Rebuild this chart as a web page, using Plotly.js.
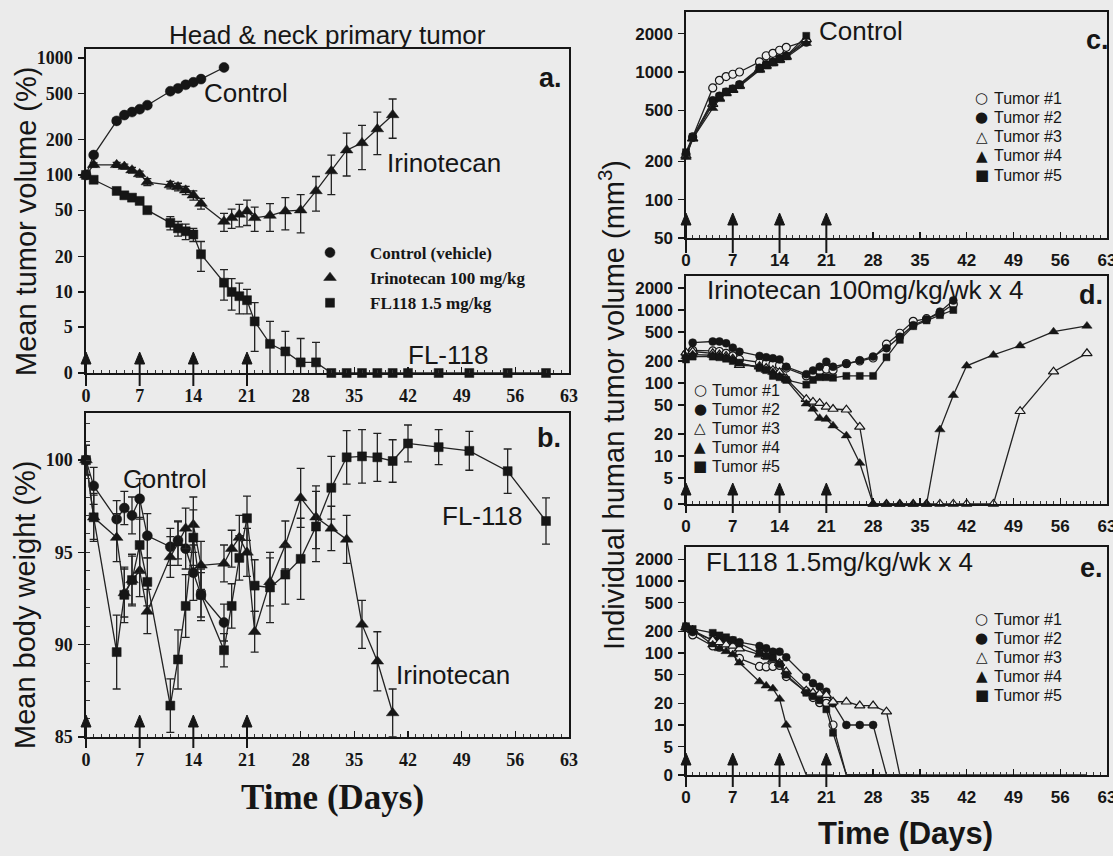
<!DOCTYPE html>
<html><head><meta charset="utf-8">
<script src="https://cdn.plot.ly/plotly-3.0.1.min.js"></script>
<style>html,body{margin:0;padding:0;background:#ebebeb;}#chart{width:1113px;height:856px;}</style>
</head><body><div id="chart"></div><script>
// ---------------- DATA ----------------
const doseDays = [0, 7, 14, 21];
const dayTicks = [0, 7, 14, 21, 28, 35, 42, 49, 56, 63];

// Panel a: mean tumor volume (%)
const aCtrlDays = [0,1,4,5,6,7,8,11,12,13,14,15,18];
const aCtrlVol  = [100,148,290,325,345,365,395,520,550,590,620,660,830];
const aCtrlErr  = [0,6,12,12,13,14,15,20,22,24,25,27,35];
const aIriDays = [0,1,4,5,6,7,8,11,12,13,14,15,18,19,20,21,22,24,26,28,30,32,34,36,38,40];
const aIriVol  = [100,122,122,118,110,102,87,82,79,74,67,57,40,43,46,49,43,45,49,50,73,108,163,188,247,326];
const aIriErr  = [0,5,6,6,6,6,6,6,6,6,6,6,7,8,10,12,10,12,15,18,24,40,65,77,98,120];
const aFlDays = [0,1,4,5,6,7,8,11,12,13,14,15,18,19,20,21,22,24,26,28,30,32,34,36,38,40,42,46,50,55,60];
const aFlVol  = [100,91,73,67,64,60,50,39,35,33,31,21,12,10,9.2,8.5,5.6,3.6,3.1,2.5,2.5,0,0,0,0,0,0,0,0,0,0];
const aFlErr  = [0,3,3,3,3,3,3,5,5,5,4,6,3.5,3,2.7,2,2.5,2,1.5,1.5,1.2,0,0,0,0,0,0,0,0,0,0];
const aTicks  = [0,5,10,20,50,100,200,500,1000];

// Panel b: mean body weight (%)
const bCtrlWt  = [100,98.6,96.8,97.4,97.0,97.9,95.9,95.3,95.65,95.2,93.9,92.7,91.2];
const bCtrlErr = [0.8,1.0,1.0,0.9,1.0,1.1,1.2,1.0,1.0,1.1,1.5,1.2,1.0];
const bIriWt   = [100,96.9,95.8,92.8,93.5,94.0,91.8,94.75,95.5,96.3,96.5,94.3,94.4,95.2,95.8,95.0,90.7,93.4,95.4,97.95,96.9,96.3,95.7,91.1,89.1,86.3];
const bIriErr  = [0.8,1.2,1.3,1.3,1.3,1.4,1.2,1.1,1.2,1.1,1.5,1.3,1.0,1.0,1.2,1.3,1.1,1.3,1.3,1.6,1.7,1.2,1.3,1.3,1.6,1.3];
const bFlWt    = [100,96.9,89.6,92.7,93.5,95.4,93.4,86.7,89.2,92.1,95.8,92.7,89.7,92.1,94.7,96.85,93.2,93.1,93.8,94.65,96.4,98.5,100.15,100.2,100.15,99.95,100.9,100.7,100.5,99.4,96.7];
const bFlErr   = [0.8,1.3,2.0,1.5,1.4,1.5,1.3,1.45,1.6,1.7,1.5,1.4,0.9,1.2,1.2,1.2,1.4,1.9,1.6,2.2,1.9,1.7,1.45,1.45,1.3,1.15,1.0,0.95,1.05,1.2,1.25];
const bTicks   = [85, 90, 95, 100];

// Panel c: control, individual tumors (mm3)
const cDays = [0,1,4,5,6,7,8,11,12,13,14,15,18];
const cT1 = [225,310,750,860,920,960,1000,1200,1340,1400,1480,1560,1750];
const cT2 = [230,305,600,650,700,740,800,1080,1150,1200,1280,1340,1700];
const cT3 = [220,300,560,620,680,720,780,1050,1120,1180,1250,1320,1800];
const cT4 = [215,300,520,610,690,730,770,1030,1100,1160,1230,1300,1680];
const cT5 = [235,310,580,640,700,740,790,1060,1130,1190,1260,1330,1920];
const cTicks = [50,100,200,500,1000,2000];

// Panels d, e: shared day list (each tumor uses the first N days)
const indDays = [0,1,4,5,6,7,8,11,12,13,14,15,18,19,20,21,22,24,26,28,30,32,34,36,38,40,42,46,50,55,60];
const dT1 = [240,280,275,270,255,235,210,190,185,180,175,160,125,135,145,155,150,185,200,220,340,480,700,760,900,1200];
const dT2 = [250,357,370,370,350,305,268,235,225,218,210,167,132,148,167,196,167,182,205,230,300,430,620,740,950,1350];
const dT3 = [260,270,255,245,235,215,175,170,160,150,140,115,60,55,53,47,44,43,25,0,0,0,0,0,0,0,0,0,41,143,255];
const dT4 = [230,245,240,235,225,210,185,165,150,140,125,110,52,44,33,32,26,19,8,0,0,0,0,0,23,68,172,242,325,505,605];
const dT5 = [210,230,230,225,215,200,190,160,150,125,120,110,95,110,120,120,118,125,125,125,225,390,600,720,850,1000];
const eT1 = [225,178,125,120,116,110,84,65,64,65,67,47,29,24,20.4,20,10,0,0,0,0,0];
const eT2 = [230,195,151,150,155,150,141,125,116,104,104,87,46,38,34,29,20,10,10,10,0,0,0,0,0,0,0,0,0,0,0];
const eT3 = [225,205,150,140,130,125,115,95,90,80,72,55,30,28,27,26,21,21,18.6,18.6,15.3,0,0];
const eT4 = [225,210,130,115,105,95,73,40,35,32,23,10,0,0,0,0,0];
const eT5 = [235,215,190,175,165,150,135,100,90,85,70,50,28,25,22,16.5,7.8,0,0,0,0];
const indTicks = [0,5,10,20,50,100,200,500,1000,2000];
const tumorNames = ['Tumor #1','Tumor #2','Tumor #3','Tumor #4','Tumor #5'];
const tumorGlyphs = ['\u25CB','\u25CF','\u25B3','\u25B2','\u25A0'];

// ---------------- STYLE / GEOMETRY ----------------
const W = 1113, H = 856;
const BG = '#ebebeb', INK = '#161616';
const SANS = 'Liberation Sans, Arial, sans-serif';
const SERIF = 'Liberation Serif, Times New Roman, serif';
const px = v => v / W, py = v => 1 - v / H;
const domX = (l, r) => [px(l), px(r)];
const domY = (t, b) => [py(b), py(t)];

const rngA = [0.307, 3.077], rngC = [1.699, 3.47], rngD = [0.342, 3.466], rngE = [0.306, 3.47];
const floorOf = r => Math.pow(10, r[0]);
const z = (vals, r) => vals.map(v => v <= 0 ? floorOf(r) : v);

const traces = [];
function addSeries(xa, ya, days, vals, err, rng, mk, name, legend, showLeg) {
  const y = rng ? z(vals, rng) : vals;
  const d = days.slice(0, vals.length);
  traces.push({x: d, y: y, xaxis: xa, yaxis: ya, mode: 'lines', cliponaxis: false,
    line: {color: '#222', width: 1.3}, showlegend: false, hoverinfo: 'skip'});
  const t = {x: d, y: y, xaxis: xa, yaxis: ya, mode: 'markers', cliponaxis: false, name: name,
    marker: mk, showlegend: !!showLeg, legendgroup: name + xa};
  if (legend) t.legend = legend;
  if (err) t.error_y = {type: 'data', array: err, visible: true, color: '#222', thickness: 1.3, width: 4};
  traces.push(t);
}
const mFill = (sym, size) => ({symbol: sym, size: size, color: INK, line: {color: INK, width: 0.5}});
const mOpen = (sym, size) => ({symbol: sym, size: size, color: BG, line: {color: INK, width: 1.2}});

addSeries('x', 'y', aCtrlDays, aCtrlVol, aCtrlErr, rngA, mFill('circle', 10), 'Control (vehicle)', 'legend', true);
addSeries('x', 'y', aIriDays, aIriVol, aIriErr, rngA, mFill('triangle-up', 11), 'Irinotecan 100 mg/kg', 'legend', true);
addSeries('x', 'y', aFlDays, aFlVol, aFlErr, rngA, mFill('square', 9), 'FL118 1.5 mg/kg', 'legend', true);
addSeries('x2', 'y2', aCtrlDays, bCtrlWt, bCtrlErr, null, mFill('circle', 10), 'Control', null, false);
addSeries('x2', 'y2', aIriDays, bIriWt, bIriErr, null, mFill('triangle-up', 11), 'Irinotecan', null, false);
addSeries('x2', 'y2', aFlDays, bFlWt, bFlErr, null, mFill('square', 9), 'FL-118', null, false);
const tumorMk = [mOpen('circle', 8), mFill('circle', 8), mOpen('triangle-up', 9), mFill('triangle-up', 9), mFill('square', 7)];
[cT1, cT2, cT3, cT4, cT5].forEach((v, i) => addSeries('x3', 'y3', cDays, v, null, rngC, tumorMk[i], tumorNames[i], null, false));
[dT1, dT2, dT3, dT4, dT5].forEach((v, i) => addSeries('x4', 'y4', indDays, v, null, rngD, tumorMk[i], tumorNames[i], null, false));
[eT1, eT2, eT3, eT4, eT5].forEach((v, i) => addSeries('x5', 'y5', indDays, v, null, rngE, tumorMk[i], tumorNames[i], null, false));

// ---------------- AXES ----------------
const serifTick = {family: SERIF, size: 18, weight: 'bold', color: INK};
const sansTick = {family: SANS, size: 17, weight: 'bold', color: INK};
function xAx(dom, anchor, font) {
  return {domain: dom, anchor: anchor, range: [0, 63], tickvals: dayTicks, ticktext: dayTicks.map(String),
    ticks: 'inside', ticklen: 6, tickwidth: 1.3, tickcolor: INK,
    minor: {tickvals: Array.from({length: 64}, (_, i) => i), ticks: 'inside', ticklen: 3, tickwidth: 1, tickcolor: '#333'},
    showline: true, linecolor: INK, linewidth: 1.6, mirror: true, showgrid: false, zeroline: false,
    tickfont: font, ticklabelstandoff: 6, ticklabeloverflow: 'allow', fixedrange: true};
}
function yLog(dom, anchor, rng, ticks, font) {
  const fl = floorOf(rng);
  return {domain: dom, anchor: anchor, type: 'log', range: rng,
    tickvals: ticks.map(t => t <= 0 ? fl : t), ticktext: ticks.map(String),
    ticks: 'outside', ticklen: 6, tickwidth: 1.3, tickcolor: INK,
    showline: true, linecolor: INK, linewidth: 1.6, mirror: true, showgrid: false, zeroline: false,
    tickfont: font, ticklabelstandoff: 2, fixedrange: true};
}
const domAX = domX(86, 569), domCX = domX(686, 1107);
const domA = domY(49, 373), domB = domY(413, 737), domC = domY(12, 238), domD = domY(276, 504), domE = domY(547, 775);

const layout = {
  width: W, height: H, margin: {l: 0, r: 0, t: 0, b: 0},
  paper_bgcolor: BG, plot_bgcolor: BG, showlegend: true,
  font: {family: SANS, color: INK},
  xaxis: xAx(domAX, 'y', serifTick),
  yaxis: yLog(domA, 'x', rngA, aTicks, serifTick),
  xaxis2: xAx(domAX, 'y2', serifTick),
  yaxis2: {domain: domB, anchor: 'x2', range: [85, 102.55], tickvals: bTicks,
    ticks: 'outside', ticklen: 6, tickwidth: 1.3, tickcolor: INK,
    minor: {dtick: 1, ticks: 'inside', ticklen: 4, tickwidth: 1, tickcolor: '#333'},
    showline: true, linecolor: INK, linewidth: 1.6, mirror: true, showgrid: false, zeroline: false,
    tickfont: serifTick, ticklabelstandoff: 2, fixedrange: true},
  xaxis3: xAx(domCX, 'y3', sansTick),
  yaxis3: yLog(domC, 'x3', rngC, cTicks, sansTick),
  xaxis4: xAx(domCX, 'y4', sansTick),
  yaxis4: yLog(domD, 'x4', rngD, indTicks, sansTick),
  xaxis5: xAx(domCX, 'y5', sansTick),
  yaxis5: yLog(domE, 'x5', rngE, indTicks, sansTick),
  legend: {x: px(290), y: py(235), xanchor: 'left', yanchor: 'top', bgcolor: 'rgba(0,0,0,0)',
    font: {family: SERIF, size: 17, weight: 'bold', color: INK}, itemwidth: 70, tracegroupgap: 0},
  annotations: [],
  shapes: []
};

const ann = layout.annotations;
function txt(text, x, y, size, opts) {
  ann.push(Object.assign({text: text, x: px(x), y: py(y), xref: 'paper', yref: 'paper',
    xanchor: 'center', yanchor: 'middle', showarrow: false,
    font: {family: SANS, size: size, color: INK}}, opts || {}));
}
const bold = (fam, size) => ({font: {family: fam, size: size, weight: 'bold', color: INK}});
txt('Head &amp; neck primary tumor', 327, 35, 26);
txt('a.', 550, 78, 27, bold(SANS, 27));
txt('Control', 246, 93, 26);
txt('Irinotecan', 444, 163, 26);
txt('FL-118', 448, 355, 26);
txt('Control', 165, 479, 26);
txt('FL-118', 482, 516, 26);
txt('Irinotecan', 453, 675, 26);
txt('b.', 549, 438, 27, bold(SANS, 27));
txt('Control', 861, 31, 26);
txt('c.', 1097, 40, 27, bold(SANS, 27));
txt('Irinotecan 100mg/kg/wk x 4', 865, 290, 26);
txt('d.', 1091, 295, 27, bold(SANS, 27));
txt('FL118 1.5mg/kg/wk x 4', 839, 562, 26);
txt('e.', 1091, 568, 27, bold(SANS, 27));
txt('Time (Days)', 332, 797, 35, bold(SERIF, 35));
txt('Time (Days)', 905, 833, 31, bold(SANS, 31));
txt('Mean tumor volume (%)', 26, 222, 29, {textangle: -90});
txt('Mean body weight (%)', 25, 605, 29, {textangle: -90});
txt('Individual human tumor volume (mm<sup>3</sup>)', 612, 405, 29, {textangle: -90});

// legends of panels c, d, e (symbol + label)
function tumorLegend(symX, textX, firstY, step) {
  tumorNames.forEach((nm, i) => {
    const yy = firstY + i * step;
    txt(tumorGlyphs[i], symX, yy, 15, {font: {family: 'DejaVu Sans', size: 15, color: INK}});
    txt(nm, textX, yy, 16, {xanchor: 'left'});
  });
}
tumorLegend(982, 992, 98, 19.3);
tumorLegend(700, 710, 390, 19);
tumorLegend(982, 992, 619, 19);

// dosing arrows (day -> paper position through the axis range 0..63)
const shp = layout.shapes;
function arrows(domx, tipPx, tailPx) {
  doseDays.forEach(d => {
    const xp = domx[0] + (d / 63) * (domx[1] - domx[0]);
    shp.push({type: 'line', xref: 'paper', yref: 'paper', x0: xp, x1: xp, y0: py(tailPx), y1: py(tipPx + 9),
      line: {color: INK, width: 2}, layer: 'above'});
    shp.push({type: 'path', xref: 'paper', yref: 'paper', layer: 'above',
      path: 'M ' + (xp - 5 / W) + ' ' + py(tipPx + 12) + ' L ' + (xp + 5 / W) + ' ' + py(tipPx + 12) +
            ' L ' + xp + ' ' + py(tipPx) + ' Z',
      fillcolor: INK, line: {color: INK, width: 1}});
  });
}
arrows(domAX, 352, 386);
arrows(domAX, 715, 748);
arrows(domCX, 213, 253);
arrows(domCX, 483, 513);
arrows(domCX, 753, 787);

Plotly.newPlot('chart', traces, layout, {displayModeBar: false, staticPlot: true});
</script></body></html>
